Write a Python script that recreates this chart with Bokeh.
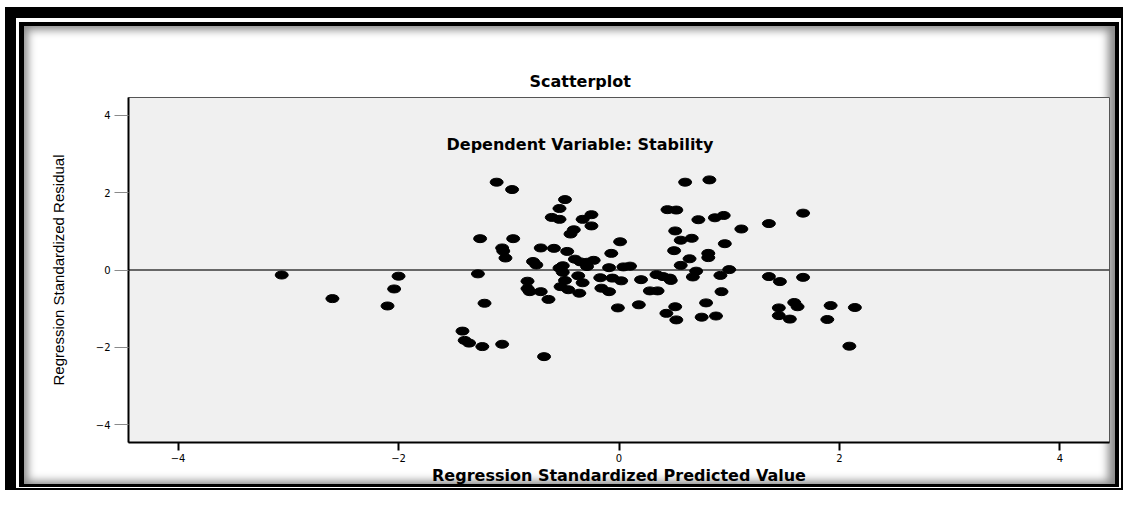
from bokeh.plotting import figure
from bokeh.models import Range1d, FixedTicker, Span, Label
from bokeh.embed import file_html
from bokeh.resources import INLINE

# Regression standardized predicted value (x) and residual (y)
predicted = [
    -3.06, -2.60, -2.00, -2.04, -2.10, -1.28, -1.22, -1.42, -1.40, -1.36,
    -1.24, -1.06, -0.68, -1.11, -0.97, -1.26, -0.96, -1.06, -1.05, -1.03,
    -0.71, -0.78, -0.75, -0.83, -0.83, -0.81, -0.71, -0.64, -0.49, -0.54,
    -0.61, -0.54, -0.33, -0.25, -0.25, -0.41, -0.44, -0.59, -0.47, 0.01,
    -0.07, -0.40, -0.35, -0.29, -0.23, -0.29, -0.51, -0.51, -0.54, -0.09,
    0.04, 0.10, -0.37, -0.49, -0.33, -0.53, -0.46, -0.36, -0.17, -0.06,
    0.02, 0.20, -0.16, -0.09, 0.28, -0.01, 0.18, 0.60, 0.82, 0.44,
    0.52, 0.72, 0.87, 0.95, 1.11, 1.36, 1.67, 0.51, 0.56, 0.66,
    0.96, 0.50, 0.64, 0.81, 0.81, 0.56, 0.70, 1.00, 0.67, 0.92,
    1.36, 1.46, 1.67, 0.34, 0.40, 0.46, 0.47, 0.35, 0.93, 0.43,
    0.51, 0.52, 0.79, 0.75, 0.88, 1.45, 1.45, 1.55, 1.59, 1.62,
    1.92, 1.89, 2.14, 2.09,
]
residual = [
    -0.13, -0.74, -0.16, -0.49, -0.93, -0.10, -0.86, -1.58, -1.82, -1.89,
    -1.98, -1.92, -2.24, 2.27, 2.08, 0.81, 0.81, 0.57, 0.49, 0.31,
    0.57, 0.22, 0.13, -0.29, -0.48, -0.56, -0.56, -0.76, 1.82, 1.59,
    1.36, 1.31, 1.31, 1.43, 1.14, 1.04, 0.93, 0.56, 0.48, 0.73,
    0.43, 0.28, 0.21, 0.20, 0.25, 0.09, 0.11, -0.06, 0.05, 0.06,
    0.08, 0.10, -0.15, -0.27, -0.33, -0.43, -0.51, -0.60, -0.20, -0.21,
    -0.28, -0.25, -0.47, -0.56, -0.54, -0.98, -0.90, 2.27, 2.33, 1.56,
    1.55, 1.30, 1.35, 1.41, 1.06, 1.20, 1.47, 1.01, 0.77, 0.82,
    0.68, 0.50, 0.29, 0.43, 0.32, 0.12, -0.03, 0.01, -0.18, -0.14,
    -0.17, -0.30, -0.19, -0.12, -0.17, -0.21, -0.27, -0.54, -0.56, -1.12,
    -0.95, -1.29, -0.85, -1.22, -1.19, -0.98, -1.18, -1.27, -0.84, -0.95,
    -0.92, -1.28, -0.97, -1.97,
]
assert len(predicted) == len(residual)

tick_values = [-4, -2, 0, 2, 4]
title_text = "Scatterplot"
subtitle_text = "Dependent Variable: Stability"
x_label = "Regression Standardized Predicted Value"
y_label = "Regression Standardized Residual"

p = figure(
    width=1123, height=490,
    output_backend="svg", toolbar_location=None,
    x_range=Range1d(-4.45, 4.45), y_range=Range1d(-4.46, 4.46),
    min_border_left=128, min_border_right=14,
    min_border_top=97, min_border_bottom=48,
    title=title_text,
)


def bands(color, left, top, right, bottom, blur=0):
    out = []
    if left:
        out.append(f"inset {left}px 0 {blur}px 0 {color}")
    if top:
        out.append(f"inset 0 {top}px {blur}px 0 {color}")
    if right:
        out.append(f"inset -{right}px 0 {blur}px 0 {color}")
    if bottom:
        out.append(f"inset 0 -{bottom}px {blur}px 0 {color}")
    return out


# picture-frame decoration (double black frame with soft inner shadow)
shadow = []
shadow += bands("#fff", 5, 7, 0, 0)
shadow += bands("#000", 16, 18, 2, 2)
shadow += bands("#fff", 19, 22, 4, 3)
shadow += bands("#000", 24, 26, 8, 6)
shadow += bands("#8c8c8c", 28, 30, 15, 9, blur=8)
p.styles = {"box-shadow": ", ".join(shadow)}

p.background_fill_color = "#F0F0F0"
p.border_fill_color = None
p.outline_line_color = "#555555"
p.outline_line_width = 1
p.xgrid.grid_line_color = None
p.ygrid.grid_line_color = None

# title (left-aligned with an offset so that it is centred on the page)
p.title.align = "left"
p.title.offset = 401
p.title.text_font = "DejaVu Sans"
p.title.text_font_size = "16px"
p.title.text_font_style = "bold"
p.title.text_color = "black"
p.title.standoff = 13

# zero reference line
p.add_layout(Span(location=0, dimension="width", line_color="#3a3a3a",
                  line_width=1.3, level="underlay"))

p.ellipse(x=predicted, y=residual, width=13, height=8,
          width_units="screen", height_units="screen",
          fill_color="black", line_color="black")

# x axis
xa = p.xaxis[0]
xa.ticker = FixedTicker(ticks=tick_values)
xa.minor_tick_line_color = None
xa.major_tick_in = 0
xa.major_tick_out = 8
xa.major_tick_line_width = 2
xa.major_tick_line_color = "black"
xa.axis_line_width = 2
xa.axis_line_color = "black"
xa.major_label_text_font = "DejaVu Sans"
xa.major_label_text_font_size = "10px"
xa.major_label_text_color = "black"
xa.major_label_standoff = 3
xa.axis_label = x_label
xa.axis_label_text_font = "DejaVu Sans"
xa.axis_label_text_font_size = "16px"
xa.axis_label_text_font_style = "bold"
xa.axis_label_text_color = "black"
xa.axis_label_standoff = 1

# y axis
ya = p.yaxis[0]
ya.ticker = FixedTicker(ticks=tick_values)
ya.minor_tick_line_color = None
ya.major_tick_in = 0
ya.major_tick_out = 14
ya.major_tick_line_width = 1
ya.major_tick_line_color = "#8a8a8a"
ya.axis_line_width = 2
ya.axis_line_color = "black"
ya.major_label_text_font = "DejaVu Sans"
ya.major_label_text_font_size = "10px"
ya.major_label_text_color = "black"
ya.major_label_standoff = 4
ya.axis_label = y_label
ya.axis_label_text_font = "Liberation Sans"
ya.axis_label_text_font_size = "15px"
ya.axis_label_text_font_style = "normal"
ya.axis_label_text_color = "black"
ya.axis_label_standoff = 26

p.add_layout(Label(x=-0.354, y=3.24, text=subtitle_text,
                   text_align="center", text_baseline="middle",
                   text_font="DejaVu Sans", text_font_size="16px",
                   text_font_style="bold", text_color="black"))

open("out.html", "w").write(file_html(p, INLINE))
